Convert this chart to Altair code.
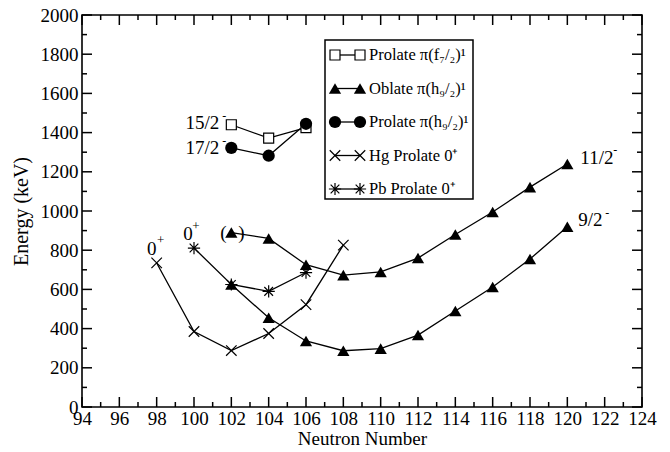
import altair as alt
import pandas as pd

FONT = "Liberation Serif"

# ---------------- data ----------------
n_f72 = [102, 104, 106]
e_f72 = [1440, 1372, 1425]

n_h92p = [102, 104, 106]
e_h92p = [1322, 1282, 1445]

n_obl_hi = [102, 104, 106, 108, 110, 112, 114, 116, 118, 120]
e_obl_hi = [890, 860, 726, 673, 689, 760, 880, 995, 1122, 1240]

n_obl_lo = [102, 104, 106, 108, 110, 112, 114, 116, 118, 120]
e_obl_lo = [625, 455, 337, 287, 298, 367, 490, 612, 755, 920]

n_hg = [98, 100, 102, 104, 106, 108]
e_hg = [735, 385, 288, 375, 522, 826]

n_pb = [100, 102, 104, 106]
e_pb = [811, 625, 590, 686]

legend_labels = ["Prolate π(f₇/₂)¹", "Oblate π(h₉/₂)¹", "Prolate π(h₉/₂)¹",
                 "Hg Prolate 0⁺", "Pb Prolate 0⁺"]

x_major = list(range(94, 125, 2))
x_minor = list(range(95, 124, 2))
y_major = list(range(0, 2001, 200))
y_minor = list(range(100, 2000, 200))

# ---------------- layout ----------------
W, H = 560, 392
TMAJ, TMIN = 10, 5

xscale = alt.Scale(domain=[94, 124], nice=False, zero=False)
yscale = alt.Scale(domain=[0, 2000], nice=False, zero=False)

xaxis = alt.Axis(values=x_major, ticks=False, domain=False, grid=False,
                 labelFont=FONT, labelFontSize=19, labelColor="black",
                 labelPadding=2, labelFlush=False, labelOverlap=False, format="d",
                 titleFont=FONT, titleFontSize=19, titleFontWeight="normal",
                 titleColor="black", titlePadding=1)
yaxis = alt.Axis(values=y_major, ticks=False, domain=False, grid=False,
                 labelFont=FONT, labelFontSize=19, labelColor="black",
                 labelPadding=4, labelFlush=False, labelOverlap=False, format="d",
                 titleFont=FONT, titleFontSize=20, titleFontWeight="normal",
                 titleColor="black", titlePadding=9)


def X(field="N"):
    return alt.X(f"{field}:Q", scale=xscale, axis=xaxis, title="Neutron Number")


def Y(field="E"):
    return alt.Y(f"{field}:Q", scale=yscale, axis=yaxis, title="Energy (keV)")


layers = []

# ---- inward ticks on all four sides ----
for vals, L in ((x_major, TMAJ), (x_minor, TMIN)):
    d = pd.DataFrame({"N": vals})
    layers.append(alt.Chart(d).mark_rule(color="black", strokeWidth=1.5).encode(
        x=X(), y=alt.value(H), y2=alt.value(H - L)))
    layers.append(alt.Chart(d).mark_rule(color="black", strokeWidth=1.5).encode(
        x=X(), y=alt.value(0), y2=alt.value(L)))
for vals, L in ((y_major, TMAJ), (y_minor, TMIN)):
    d = pd.DataFrame({"E": vals})
    layers.append(alt.Chart(d).mark_rule(color="black", strokeWidth=1.5).encode(
        y=Y(), x=alt.value(0), x2=alt.value(L)))
    layers.append(alt.Chart(d).mark_rule(color="black", strokeWidth=1.5).encode(
        y=Y(), x=alt.value(W), x2=alt.value(W - L)))

XPATH = "M-1,-1L1,1M-1,1L1,-1"
STARPATH = "M-1,0L1,0M0,-1L0,1M-0.71,-0.71L0.71,0.71M-0.71,0.71L0.71,-0.71"


def point_mark(kind):
    if kind == "square":
        return dict(shape="square", size=100, filled=True, fill="white",
                    stroke="black", strokeWidth=1.2, opacity=1)
    if kind == "circle":
        return dict(shape="circle", size=150, filled=True, color="black", opacity=1)
    if kind == "triangle":
        return dict(shape="triangle-up", size=150, filled=True, color="black", opacity=1)
    if kind == "x":
        return dict(shape=XPATH, size=110, filled=False, stroke="black",
                    strokeWidth=1.2, opacity=1)
    return dict(shape=STARPATH, size=150, filled=False, stroke="black",
                strokeWidth=1.2, opacity=1)


series = [
    (n_hg, e_hg, "x"),
    (n_pb, e_pb, "star"),
    (n_obl_hi, e_obl_hi, "triangle"),
    (n_obl_lo, e_obl_lo, "triangle"),
    (n_f72, e_f72, "square"),
    (n_h92p, e_h92p, "circle"),
]
for n, e, kind in series:
    d = pd.DataFrame({"N": n, "E": e})
    layers.append(alt.Chart(d).mark_line(color="black", strokeWidth=1.3).encode(x=X(), y=Y()))
for n, e, kind in series:
    d = pd.DataFrame({"N": n, "E": e})
    layers.append(alt.Chart(d).mark_point(**point_mark(kind)).encode(x=X(), y=Y()))

# ---- annotations ----
def annot(n, e, txt, dx, dy, size=19, align="center"):
    d = pd.DataFrame({"N": [n], "E": [e], "t": [txt]})
    return alt.Chart(d).mark_text(font=FONT, fontSize=size, color="black", align=align,
                                  baseline="middle", dx=dx, dy=dy).encode(
        x=X(), y=Y(), text="t:N")


layers += [
    annot(n_f72[0], e_f72[0], "15/2", -12, -2, align="right"),
    annot(n_f72[0], e_f72[0], "-", -9, -9, size=12, align="left"),
    annot(n_h92p[0], e_h92p[0], "17/2", -12, 0, align="right"),
    annot(n_h92p[0], e_h92p[0], "-", -9, -7, size=12, align="left"),
    annot(n_hg[0], e_hg[0], "0", -5, -14),
    annot(n_hg[0], e_hg[0], "+", 4, -23, size=13),
    annot(n_pb[0], e_pb[0], "0", -6, -14),
    annot(n_pb[0], e_pb[0], "+", 2, -22, size=13),
    annot(n_obl_hi[0], e_obl_hi[0], "(", -8, 0),
    annot(n_obl_hi[0], e_obl_hi[0], ")", 10, 0),
    annot(n_obl_hi[-1], e_obl_hi[-1], "11/2", 13, -6, align="left"),
    annot(n_obl_hi[-1], e_obl_hi[-1], "-", 46, -14, size=12, align="left"),
    annot(n_obl_lo[-1], e_obl_lo[-1], "9/2", 11, -7, align="left"),
    annot(n_obl_lo[-1], e_obl_lo[-1], "-", 38, -14, size=12, align="left"),
]

# ---- legend (pixel layout inside the plot area) ----
one = pd.DataFrame({"a": [0]})
layers.append(alt.Chart(one).mark_rect(fill="white", stroke="black", strokeWidth=1.5).encode(
    x=alt.value(243), x2=alt.value(391), y=alt.value(25), y2=alt.value(184)))
leg_kinds = ["square", "triangle", "circle", "x", "star"]
sx1, sx2, tx = 253, 278, 287
for i, (lab, kind) in enumerate(zip(legend_labels, leg_kinds)):
    yy = 40 + i * 33.5
    layers.append(alt.Chart(one).mark_rule(color="black", strokeWidth=1.3).encode(
        x=alt.value(sx1), x2=alt.value(sx2), y=alt.value(yy)))
    for sx in (sx1, sx2):
        layers.append(alt.Chart(one).mark_point(**point_mark(kind)).encode(
            x=alt.value(sx), y=alt.value(yy)))
    d = pd.DataFrame({"t": [lab]})
    layers.append(alt.Chart(d).mark_text(font=FONT, fontSize=16.5, color="black",
                                         align="left", baseline="middle").encode(
        x=alt.value(tx), y=alt.value(yy), text="t:N"))

chart = alt.layer(*layers).properties(
    width=W, height=H,
    autosize=alt.AutoSizeParams(type="none"),
    padding={"left": 74, "top": 7, "right": 20, "bottom": 44},
    background="white",
).configure_view(stroke="black", strokeWidth=1.6)

chart.save("out.html", embed_options={"renderer": "svg", "actions": False})
